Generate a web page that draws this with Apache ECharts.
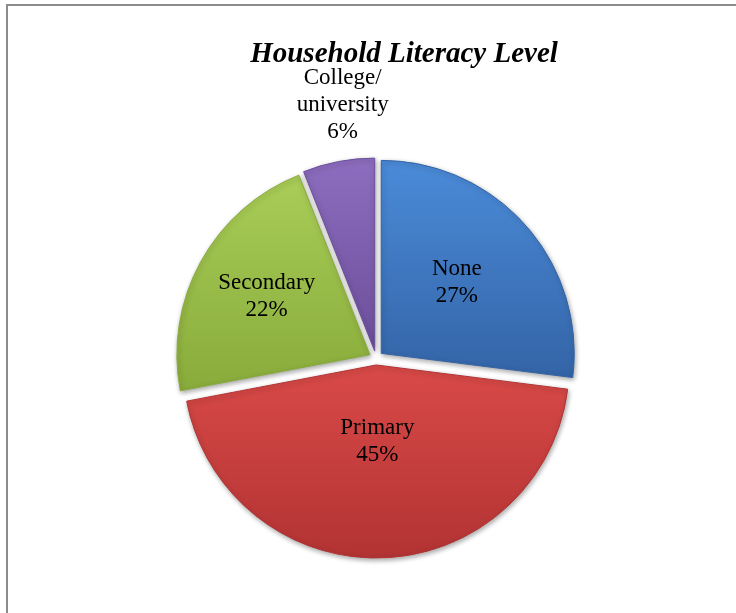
<!DOCTYPE html>
<html>
<head>
<meta charset="utf-8">
<script src="https://cdn.jsdelivr.net/npm/echarts@6/dist/echarts.min.js"></script>
<style>
html,body{margin:0;padding:0;background:#fff;}
#chart{width:736px;height:613px;position:absolute;left:0;top:0;}
#frame{position:absolute;left:6px;top:4px;width:740px;height:620px;border-top:2px solid #8c8c8c;border-left:2px solid #8c8c8c;pointer-events:none;}
</style>
</head>
<body>
<div id="chart"></div>
<div id="frame"></div>
<script>
var categories = ['None', 'Primary', 'Secondary', 'College/\nuniversity'];
var values = [27, 45, 22, 6];
var topColors = ['#4b8bd9', '#d94a48', '#a9cd57', '#8d6dbf'];
var bottomColors = ['#3364a6', '#b23333', '#88ab3b', '#6c4e9b'];
// label nudges relative to library-computed label positions
var labelShift = [[1, -5], [-2, -23], [-16, -10], [11, -47]];

var data = categories.map(function (c, i) {
  var item = {
    name: c,
    value: values[i],
    selected: true,
    itemStyle: {
      color: {
        type: 'linear', x: 0, y: 0, x2: 0, y2: 1,
        colorStops: [{offset: 0, color: topColors[i]}, {offset: 1, color: bottomColors[i]}]
      },
      borderColor: bottomColors[i],
      borderWidth: 1
    }
  };
  if (i === 3) {
    item.label = {position: 'outside'};
  }
  return item;
});

var chart = echarts.init(document.getElementById('chart'));
chart.setOption({
  animation: false,
  title: {
    text: 'Household Literacy Level',
    left: 399,
    top: 35,
    textAlign: 'center',
    textStyle: {
      fontFamily: 'Liberation Serif',
      fontStyle: 'italic',
      fontWeight: 'bold',
      fontSize: 29,
      color: '#000'
    }
  },
  series: [{
    type: 'pie',
    center: [376, 358],
    radius: 193,
    startAngle: 90,
    clockwise: true,
    selectedMode: 'multiple',
    selectedOffset: 7,
    avoidLabelOverlap: false,
    itemStyle: {
      shadowBlur: 5,
      shadowColor: 'rgba(0,0,0,0.35)',
      shadowOffsetX: 1,
      shadowOffsetY: 2
    },
    label: {
      show: true,
      position: 'inner',
      formatter: '{b}\n{d}%',
      fontFamily: 'Liberation Serif',
      fontSize: 23,
      lineHeight: 27,
      color: '#000',
      align: 'center'
    },
    labelLine: {show: false, length: 10, length2: 0},
    labelLayout: function (params) {
      var s = labelShift[params.dataIndex];
      var r = {dx: s[0], dy: s[1]};
      if (params.dataIndex === 3) r.align = 'center';
      return r;
    },
    emphasis: {disabled: true},
    data: data
  }]
});
</script>
</body>
</html>
